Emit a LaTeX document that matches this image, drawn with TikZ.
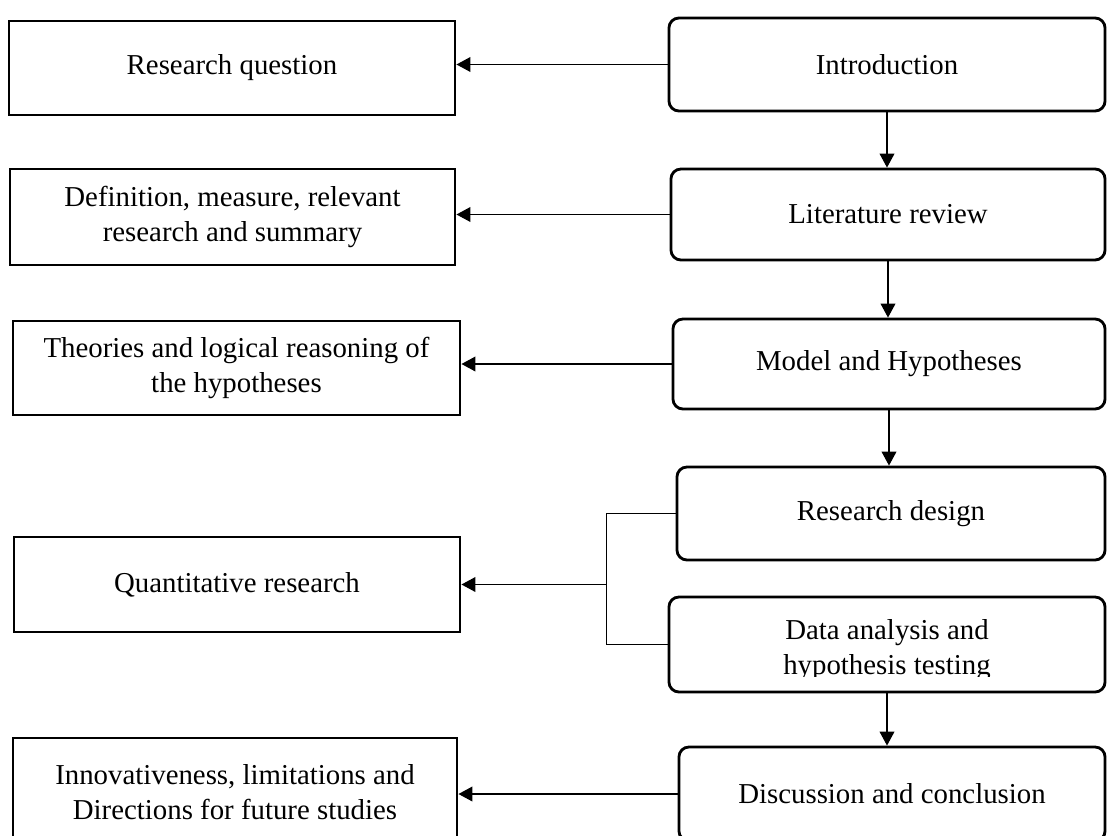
\documentclass[tikz,border=0pt]{standalone}
\usepackage{fontspec}
\setmainfont{Liberation Serif}
\usetikzlibrary{arrows.meta, positioning, calc}
\definecolor{boxink}{RGB}{0,0,0}
\definecolor{linkink}{RGB}{0,0,0}
\tikzset{
  sidebox/.style={
    draw=boxink,
    line width=2pt,
    align=center,
    inner sep=2pt,
    font=\fontsize{20.5}{24.5}\selectfont
  },
  stagebox/.style={
    sidebox,
    rounded corners=2.5mm
  },
  arrow/.style={-{Triangle[length=3.5mm, width=3.7mm]}, line width=0.9pt, draw=linkink},
  link/.style={line width=0.7pt, draw=linkink}
}

\begin{document}
\begin{tikzpicture}[x=0.025cm, y=-0.025cm]
        \useasboundingbox (0,0) rectangle (1108,835);

        % right column: stages of the thesis
        \node[stagebox, minimum width=10.9cm, minimum height=2.325cm] (intro) at (887,64.5) {Introduction};
        \node[stagebox, minimum width=10.85cm, minimum height=2.275cm] (lit) at (888,214.5) {Literature review};
        \node[stagebox, minimum width=10.8cm, minimum height=2.25cm] (model) at (889,364) {Model and Hypotheses};
        \node[stagebox, minimum width=10.7cm, minimum height=2.325cm] (design) at (891,513.5) {Research design};
        \node[stagebox, minimum width=10.9cm, minimum height=2.375cm] (data) at (887,644.5) {};
        \node[stagebox, minimum width=10.65cm, minimum height=2.35cm] (disc) at (892,794) {Discussion and conclusion};
        \begin{scope}
          \clip (669,597) rectangle (1105,676);
          \node[sidebox, draw=none] (datatxt) at (887,650) {Data analysis and\\hypothesis testing};
        \end{scope}

        % left column: contents
        \node[sidebox, minimum width=11.15cm, minimum height=2.35cm] (rq) at (232,68) {Research question};
        \node[sidebox, minimum width=11.125cm, minimum height=2.4cm] (defn) at (232.5,217) {Definition, measure, relevant\\research and summary};
        \node[sidebox, minimum width=11.175cm, minimum height=2.35cm] (theo) at (236.5,368) {Theories and logical reasoning of\\the hypotheses};
        \node[sidebox, minimum width=11.15cm, minimum height=2.375cm] (quant) at (237,584.5) {Quantitative research};
        \node[sidebox, minimum width=11.1cm, minimum height=2.7cm] (innov) at (235,792) {Innovativeness, limitations and\\Directions for future studies};

        \draw[arrow] (intro.south) -- (intro.south |- lit.north);
        \draw[arrow] (lit.south) -- (lit.south |- model.north);
        \draw[arrow] (model.south) -- (model.south |- design.north);
        \draw[arrow] (data.south) -- (data.south |- disc.north);

        \draw[arrow] (intro.west) -- (intro.west -| rq.east);
        \draw[arrow] (lit.west) -- (lit.west -| defn.east);
        \draw[arrow] (model.west) -- (model.west -| theo.east);
        \draw[arrow] (disc.west) -- (disc.west -| innov.east);

        \coordinate (brk) at (606,584.5);
        \draw[link] (design.west) -| (brk);
        \draw[link] (data.west) -| (brk);
        \draw[arrow] (brk) -- (brk -| quant.east);
      \end{tikzpicture}
\end{document}
